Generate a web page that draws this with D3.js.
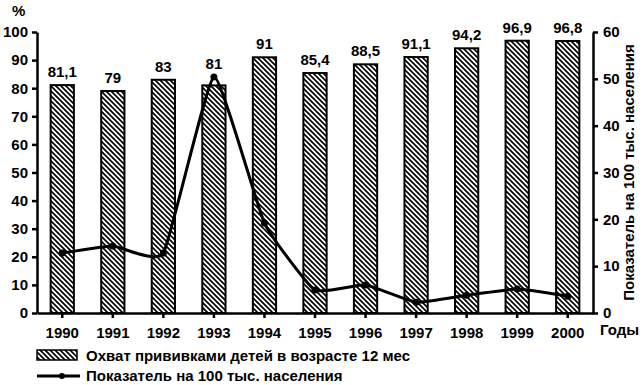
<!DOCTYPE html>
<meta charset="utf-8">
<style>
body { margin: 0; background: #fff; }
svg text { font-family: "Liberation Sans", Arial, sans-serif; font-weight: bold; fill: #000; }
.axis path, .axis line { stroke: #000; stroke-width: 2.5; }
</style>
<body>
<div id="chart"></div>
<script src="https://cdn.jsdelivr.net/npm/d3@7"></script>
<script>
// данные
var years = ["1990", "1991", "1992", "1993", "1994", "1995", "1996", "1997", "1998", "1999", "2000"];
var coverage = [81.1, 79, 83, 81, 91, 85.4, 88.5, 91.1, 94.2, 96.9, 96.8];
var coverageLabels = ["81,1", "79", "83", "81", "91", "85,4", "88,5", "91,1", "94,2", "96,9", "96,8"];
var rate = [12.8, 14.3, 12.8, 50.4, 19.2, 4.9, 6, 2.3, 3.8, 5.1, 3.6];
var leftTicks = [0, 10, 20, 30, 40, 50, 60, 70, 80, 90, 100];
var rightTicks = [0, 10, 20, 30, 40, 50, 60];

var W = 643, H = 385;
var pL = 37, pR = 593, pT = 32, pB = 313;

var svg = d3.select("#chart").append("svg")
    .attr("width", W).attr("height", H);

var defs = svg.append("defs");
defs.append("pattern")
    .attr("id", "hatch")
    .attr("patternUnits", "userSpaceOnUse")
    .attr("width", 5).attr("height", 5)
  .append("path")
    .attr("d", "M0,0 L5,5 M-1,4 L1,6 M4,-1 L6,1")
    .attr("stroke", "#000")
    .attr("stroke-width", 1.7);

var x = d3.scaleBand().domain(years).range([pL, pR]).paddingInner(0.54).paddingOuter(0.27);
var yL = d3.scaleLinear().domain([0, 100]).range([pB, pT]);
var yR = d3.scaleLinear().domain([0, 60]).range([pB, pT]);
function cx(d) { return x(d) + x.bandwidth() / 2; }

// столбики
svg.selectAll(".bar")
    .data(years)
  .enter().append("rect")
    .attr("class", "bar")
    .attr("x", function(d) { return x(d); })
    .attr("y", function(d, i) { return yL(coverage[i]); })
    .attr("width", x.bandwidth())
    .attr("height", function(d, i) { return pB - yL(coverage[i]); })
    .attr("fill", "url(#hatch)")
    .attr("stroke", "#000")
    .attr("stroke-width", 2);

// подписи над столбиками (над точкой линии, если она выше)
svg.selectAll(".val")
    .data(years)
  .enter().append("text")
    .attr("x", cx)
    .attr("y", function(d, i) { return Math.min(yL(coverage[i]), yR(rate[i])) - 8; })
    .attr("text-anchor", "middle")
    .style("font-size", "15px")
    .text(function(d, i) { return coverageLabels[i]; });

// линия
var line = d3.line()
    .x(function(d, i) { return cx(years[i]); })
    .y(function(d) { return yR(d); })
    .curve(d3.curveCardinal.tension(0.6));

svg.append("path")
    .datum(rate)
    .attr("d", line)
    .attr("fill", "none")
    .attr("stroke", "#000")
    .attr("stroke-width", 3);

svg.selectAll(".dot")
    .data(rate)
  .enter().append("circle")
    .attr("cx", function(d, i) { return cx(years[i]); })
    .attr("cy", function(d) { return yR(d); })
    .attr("r", 3.5)
    .attr("fill", "#000");

// оси
svg.append("g")
    .attr("class", "axis")
    .attr("transform", "translate(" + pL + ",0)")
    .call(d3.axisLeft(yL).tickValues(leftTicks).tickSize(5).tickSizeOuter(0))
    .selectAll("text").style("font-size", "15px").attr("dx", "-1");

svg.append("g")
    .attr("class", "axis")
    .attr("transform", "translate(" + pR + ",0)")
    .call(d3.axisRight(yR).tickValues(rightTicks).tickSize(5).tickSizeOuter(0))
    .selectAll("text").style("font-size", "15px").attr("dx", "2");

svg.append("g")
    .attr("class", "axis")
    .attr("transform", "translate(0," + pB + ")")
    .call(d3.axisBottom(x).tickSize(5).tickSizeOuter(0))
    .selectAll("text").style("font-size", "15px").attr("dy", "1.1em");

svg.append("text").attr("x", 12).attr("y", 16).style("font-size", "15px").text("%");
svg.append("text").attr("x", 600).attr("y", 335).style("font-size", "15px").text("Годы");
svg.append("text")
    .attr("transform", "translate(634," + ((pT + pB) / 2) + ") rotate(-90)")
    .attr("text-anchor", "middle")
    .style("font-size", "15px")
    .text("Показатель на 100 тыс. населения");

// легенда
svg.append("rect")
    .attr("x", 37).attr("y", 350).attr("width", 40).attr("height", 10)
    .attr("fill", "url(#hatch)").attr("stroke", "#000").attr("stroke-width", 1.5);
svg.append("text").attr("x", 86).attr("y", 361).style("font-size", "15px")
    .text("Охват прививками детей в возрасте 12 мес");
svg.append("line")
    .attr("x1", 37).attr("x2", 80).attr("y1", 376).attr("y2", 376)
    .attr("stroke", "#000").attr("stroke-width", 3);
svg.append("circle").attr("cx", 62).attr("cy", 376).attr("r", 3).attr("fill", "#000");
svg.append("text").attr("x", 86).attr("y", 381).style("font-size", "15px")
    .text("Показатель на 100 тыс. населения");
</script>
</body>
